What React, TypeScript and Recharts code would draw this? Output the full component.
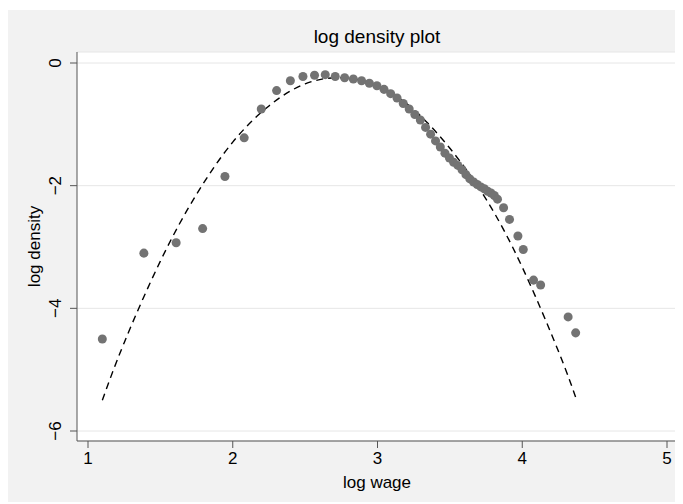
import { ComposedChart, Scatter, Line, XAxis, YAxis, CartesianGrid } from "recharts";

// observed log wage values and their log density
const wageX = [
  1.099, 1.386, 1.609, 1.792, 1.946, 2.079, 2.197, 2.303, 2.398, 2.485, 2.565, 2.639, 2.708,
  2.773, 2.833, 2.89, 2.944, 2.996, 3.045, 3.091, 3.135, 3.178, 3.219, 3.258, 3.296, 3.332,
  3.367, 3.401, 3.434, 3.466, 3.497, 3.526, 3.555, 3.584, 3.611, 3.638, 3.664, 3.689, 3.714,
  3.738, 3.761, 3.784, 3.807, 3.829, 3.871, 3.912, 3.97, 4.007, 4.078, 4.127, 4.317, 4.369,
];
const densityY = [
  -4.5, -3.1, -2.93, -2.7, -1.85, -1.22, -0.75, -0.45, -0.29, -0.22, -0.2, -0.19, -0.22,
  -0.24, -0.26, -0.29, -0.33, -0.37, -0.43, -0.5, -0.57, -0.66, -0.75, -0.84, -0.93, -1.05,
  -1.16, -1.27, -1.37, -1.47, -1.55, -1.62, -1.67, -1.74, -1.82, -1.89, -1.94, -1.98, -2.02,
  -2.05, -2.09, -2.12, -2.16, -2.22, -2.36, -2.55, -2.82, -3.04, -3.54, -3.62, -4.14, -4.4,
];

// dashed normal fit
const fitX = [1.099, 1.25, 1.5, 1.75, 2.0, 2.25, 2.5, 2.75, 3.0, 3.25, 3.5, 3.75, 4.0, 4.25, 4.369];
const fitY = [-5.5, -4.56, -3.23, -2.14, -1.29, -0.7, -0.34, -0.24, -0.37, -0.76, -1.39, -2.22, -3.33, -4.7, -5.45];

const xTicks = [1, 2, 3, 4, 5];
const yTicks = [-6, -4, -2, 0];

const points = wageX.map((x, i) => ({ x, y: densityY[i] }));
const fit = fitX.map((x, i) => ({ x, y: fitY[i] }));

const font = "'Liberation Sans', Arial, Helvetica, sans-serif";
const axisGray = "#555555";

function YTick(props: any) {
  const { x, y, payload } = props;
  const label = String(payload.value).replace("-", "\u2212");
  return (
    <text
      x={x}
      y={y}
      transform={`rotate(-90, ${x}, ${y})`}
      textAnchor="middle"
      fontSize={17}
      fontFamily={font}
      fill="#000"
    >
      {label}
    </text>
  );
}

export default function App() {
  return (
    <div
      style={{
        position: "relative",
        top: 2,
        width: 675,
        height: 494,
        background: "#f2f2f2",
        fontFamily: font,
      }}
    >
      <ComposedChart width={675} height={494} margin={{ top: 42, right: 6, bottom: 0, left: 0 }}>
        <CartesianGrid horizontal vertical={false} stroke="#e6e6e6" fill="#ffffff" />
        <XAxis
          type="number"
          dataKey="x"
          domain={[1, 5]}
          ticks={xTicks}
          padding={{ left: 11, right: 10 }}
          height={63}
          tickSize={7}
          tickMargin={4}
          stroke={axisGray}
          tick={{ fill: "#000", fontSize: 17, fontFamily: font }}
          allowDataOverflow
        />
        <YAxis
          type="number"
          dataKey="y"
          domain={[-6, 0]}
          ticks={yTicks}
          padding={{ top: 11, bottom: 10 }}
          width={69}
          tickSize={7}
          tickMargin={9}
          stroke={axisGray}
          tick={<YTick />}
          allowDataOverflow
        />
        <Scatter data={points} fill="#737373" isAnimationActive={false} />
        <Line
          data={fit}
          dataKey="y"
          type="natural"
          stroke="#000"
          strokeWidth={1.4}
          strokeDasharray="7 5"
          dot={false}
          activeDot={false}
          isAnimationActive={false}
        />
      </ComposedChart>
      <svg
        width={675}
        height={494}
        style={{ position: "absolute", left: 0, top: 0, pointerEvents: "none" }}
      >
        <text x={369} y={33} textAnchor="middle" fontSize={19} fontFamily={font} fill="#000">
          log density plot
        </text>
        <text x={369} y={478} textAnchor="middle" fontSize={17} fontFamily={font} fill="#000">
          log wage
        </text>
        <text
          x={32}
          y={236.5}
          transform="rotate(-90, 32, 236.5)"
          textAnchor="middle"
          fontSize={17}
          fontFamily={font}
          fill="#000"
        >
          log density
        </text>
      </svg>
    </div>
  );
}
